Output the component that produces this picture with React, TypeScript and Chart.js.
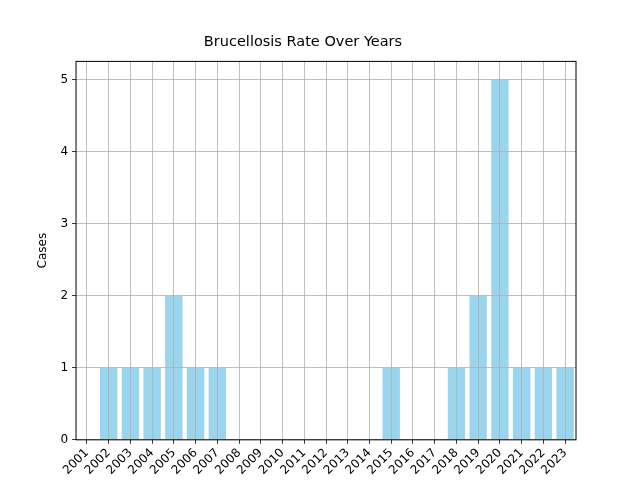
import React, { useEffect, useRef } from "react";
import { Chart, registerables } from "chart.js";
Chart.register(...registerables);

const years = ["2001","2002","2003","2004","2005","2006","2007","2008","2009","2010","2011","2012","2013","2014","2015","2016","2017","2018","2019","2020","2021","2022","2023"];
const cases = [0,1,1,1,2,1,1,0,0,0,0,0,0,0,1,0,0,1,2,5,1,1,1];
const yTicks = [0,1,2,3,4,5];

const frame = {
  id: "frame",
  afterDraw(c: any) {
    const { ctx, chartArea: a } = c;
    ctx.save();
    ctx.strokeStyle = "#000";
    ctx.lineWidth = 1;
    ctx.strokeRect(a.left, a.top, a.right - a.left, a.bottom - a.top);
    ctx.restore();
  },
};

export default function App() {
  const ref = useRef<HTMLCanvasElement>(null);
  useEffect(() => {
    document.body.style.margin = "0";
    const font = { family: "DejaVu Sans", size: 12 };
    const chart = new Chart(ref.current!, {
      type: "bar",
      data: {
        labels: years,
        datasets: [{ data: cases, backgroundColor: "rgba(135,206,235,0.85)", categoryPercentage: 1, barPercentage: 0.8 }],
      },
      options: {
        animation: false,
        responsive: false,
        layout: { padding: { left: 30, right: 64, top: 10 } },
        plugins: {
          legend: { display: false },
          tooltip: { enabled: false },
          title: { display: true, text: "Brucellosis Rate Over Years", color: "#000", font: { family: "DejaVu Sans", size: 14.5, weight: "normal" }, padding: { top: 24, bottom: 10 } },
        },
        scales: {
          x: {
            grid: { offset: false, color: "#b0b0b0", lineWidth: 0.8, z: 1, tickColor: "#000", tickLength: 4 },
            border: { display: false },
            ticks: { color: "#000", font, maxRotation: 45, minRotation: 45, autoSkip: false, padding: 2 },
            title: { display: true, text: "Year", color: "#000", font, padding: 0 },
          },
          y: {
            min: 0, max: 5.25,
            afterBuildTicks: (s: any) => { s.ticks = yTicks.map(v => ({ value: v })); },
            grid: { color: "#b0b0b0", lineWidth: 0.8, z: 1, tickColor: "#000", tickLength: 4 },
            border: { display: false },
            ticks: { color: "#000", font, padding: 4 },
            title: { display: true, text: "Cases", color: "#000", font, padding: 6 },
          },
        },
      },
      plugins: [frame],
    });
    return () => chart.destroy();
  }, []);
  return <canvas ref={ref} width={640} height={494} style={{ display: "block" }} />;
}
